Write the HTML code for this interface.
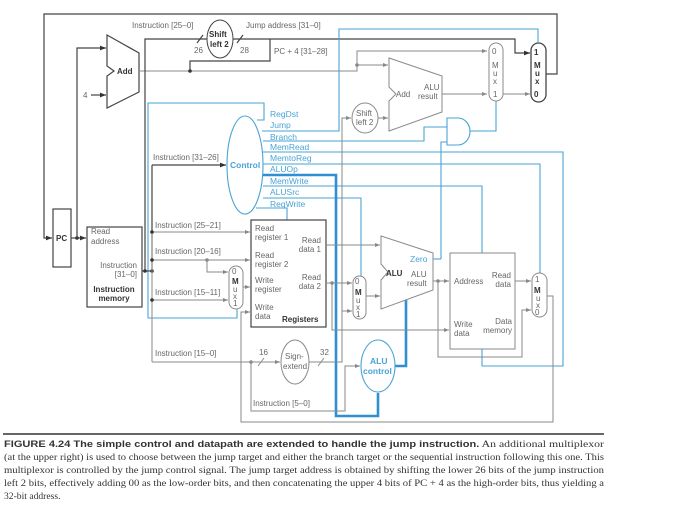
<!DOCTYPE html>
<html><head><meta charset="utf-8"><style>
html,body{margin:0;padding:0;background:#fff;}
svg{display:block;font-family:"Liberation Sans",sans-serif;}
.g{stroke:#8a8a8a;stroke-width:1;fill:none}
.d{stroke:#444;stroke-width:1.2;fill:none}
.b{stroke:#4aa3d6;stroke-width:1.1;fill:none}
.bt{stroke:#2f8fd0;stroke-width:2.6;fill:none}
.t{font-size:8px;fill:#666}
.tb{font-size:8px;fill:#333;font-weight:bold}
.bl{font-size:8.5px;fill:#4aa3d6}
.cap{font-family:"Liberation Serif",serif;font-size:9.6px;fill:#333}
</style></head><body>
<svg width="700" height="524" viewBox="0 0 700 524">
<defs>
<marker id="a" markerWidth="6" markerHeight="6" refX="5" refY="3" orient="auto"><path d="M0,1 L5,3 L0,5z" fill="#888"/></marker>
<marker id="ad" markerWidth="6" markerHeight="6" refX="5" refY="3" orient="auto"><path d="M0,1 L5,3 L0,5z" fill="#333"/></marker>
</defs>
<rect width="700" height="524" fill="#fff"/>

<path class="d" d="M546,74 H557 V14 H44 V238 H52" marker-end="url(#ad)"/>
<rect x="53" y="209" width="18" height="58" class="d"/>
<text x="56" y="241" class="tb">PC</text>
<path class="d" d="M71,238 H86" marker-end="url(#ad)"/>
<circle cx="77" cy="238" r="1.8" fill="#333"/>
<path class="d" d="M77,238 V48 H106" marker-end="url(#ad)"/>
<text x="83" y="98" class="t" fill="#333">4</text>
<path class="d" d="M91,95 H106" marker-end="url(#ad)"/>
<path class="d" d="M107,35 L139,53 V92 L107,108 V76 L114,71 L107,66 Z"/>
<text x="117" y="74" class="tb">Add</text>
<path class="g" d="M139,71 H357 V51 H487" marker-end="url(#a)"/>
<circle cx="190" cy="71" r="1.8" fill="#333"/>
<circle cx="357" cy="65" r="1.8" fill="#888"/>
<path class="g" d="M357,65 H388" marker-end="url(#a)"/>
<path class="d" d="M190,71 V61 H270 V39"/>
<path class="d" d="M145,271 V39 H207"/>
<path class="d" d="M233,39 H515 V53 H530" marker-end="url(#ad)"/>
<ellipse cx="220" cy="39" rx="13" ry="19" fill="#fff" stroke="#444"/>
<text x="209" y="37" class="tb">Shift</text>
<text x="210" y="47" class="tb">left 2</text>
<path class="d" d="M197,43 L203,35 M237,43 L243,35"/>
<text x="194" y="53" class="t" fill="#333">26</text>
<text x="240" y="53" class="t" fill="#333">28</text>
<text x="132" y="28" class="t" fill="#333">Instruction [25–0]</text>
<text x="246" y="28" class="t" fill="#333">Jump address [31–0]</text>
<text x="274" y="54" class="t" fill="#333">PC + 4 [31–28]</text>

<path class="g" d="M389,58 L442,76 V112 L389,131 V101 L396,94 L389,87 Z"/>
<text x="396" y="97" class="t">Add</text>
<text x="424" y="90" class="t">ALU</text>
<text x="418" y="99" class="t">result</text>
<path class="g" d="M442,94 H487" marker-end="url(#a)"/>
<ellipse cx="365" cy="118" rx="13" ry="15" class="g"/>
<text x="356" y="116" class="t">Shift</text>
<text x="356" y="125" class="t">left 2</text>
<path class="g" d="M378,118 H388" marker-end="url(#a)"/>
<rect x="489" y="43" width="14" height="58" rx="7" class="g"/>
<text x="492" y="54" class="t">0</text>
<text x="492" y="68" class="t">M</text><text x="493" y="76" class="t">u</text><text x="493" y="84" class="t">x</text>
<text x="493" y="97" class="t">1</text>
<path class="g" d="M503,94 H530" marker-end="url(#a)"/>
<rect x="531" y="43" width="15" height="59" rx="7.5" fill="#fff" stroke="#444" stroke-width="1.3"/>
<text x="534" y="55" class="tb">1</text>
<text x="534" y="68" class="tb">M</text><text x="535" y="76" class="tb">u</text><text x="535" y="84" class="tb">x</text>
<text x="534" y="97" class="tb">0</text>
<path class="b" d="M447,118 H458 A12,13.5 0 0 1 458,145 H447 Z"/>
<path class="b" d="M470,131 H496 V101"/>

<ellipse cx="245" cy="165" rx="18" ry="49" class="b"/>
<text x="230" y="168" class="bl" font-weight="bold">Control</text>
<path class="d" d="M152,165 H226" marker-end="url(#ad)"/>
<path class="d" d="M152,271 V165"/>
<text x="153" y="160" class="t" fill="#333">Instruction [31–26]</text>
<g class="bl">
<text x="270" y="117">RegDst</text><text x="270" y="128">Jump</text><text x="270" y="140">Branch</text>
<text x="270" y="150">MemRead</text><text x="270" y="161">MemtoReg</text><text x="270" y="172">ALUOp</text>
<text x="270" y="184">MemWrite</text><text x="270" y="195">ALUSrc</text><text x="270" y="207">RegWrite</text>
</g>
<path class="b" d="M257,120 H264 V103 H148 V318 H237 V309"/>
<path class="b" d="M262,131 H339 V29 H538 V43"/>
<path class="b" d="M263,141 H424 V127 H447"/>
<path class="b" d="M263,152 H563 V366 H482 V349"/>
<path class="b" d="M263,164 H540 V273"/>
<path class="b" d="M263,186 H482 V253"/>
<path class="b" d="M263,198 H361 V276"/>
<path class="b" d="M256,208 H287 V220"/>
<path class="bt" d="M263,175 H336 V416 H378 V393"/>
<path class="bt" d="M395,366 H406 V300"/>
<path class="b" d="M441,259 V142 H447"/>

<rect x="87" y="227" width="55" height="80" class="d"/>
<text x="91" y="234" class="t" fill="#333">Read</text>
<text x="91" y="244" class="t" fill="#333">address</text>
<text x="137" y="268" class="t" fill="#333" text-anchor="end">Instruction</text>
<text x="137" y="277" class="t" fill="#333" text-anchor="end">[31–0]</text>
<text x="114" y="292" class="tb" text-anchor="middle">Instruction</text>
<text x="114" y="301" class="tb" text-anchor="middle">memory</text>
<path class="d" d="M142,271 H152"/>
<circle cx="145" cy="271" r="1.8" fill="#333"/><circle cx="152" cy="271" r="1.8" fill="#333"/>
<path class="g" d="M152,271 V232 M152,271 V362"/>
<path class="g" d="M152,232 H250" marker-end="url(#a)"/>
<path class="g" d="M152,260 H250" marker-end="url(#a)"/>
<path class="g" d="M207,260 V272 H228" marker-end="url(#a)"/>
<path class="g" d="M152,300 H228" marker-end="url(#a)"/>
<path class="g" d="M152,362 H280" marker-end="url(#a)"/>
<circle cx="152" cy="232" r="1.8" fill="#333"/><circle cx="152" cy="260" r="1.8" fill="#333"/>
<circle cx="152" cy="300" r="1.8" fill="#333"/><circle cx="207" cy="260" r="1.8" fill="#888"/>
<circle cx="251" cy="362" r="1.8" fill="#888"/>
<text x="155" y="228" class="t">Instruction [25–21]</text>
<text x="155" y="254" class="t">Instruction [20–16]</text>
<text x="155" y="295" class="t">Instruction [15–11]</text>
<text x="155" y="356" class="t">Instruction [15–0]</text>
<rect x="229" y="266" width="14" height="43" rx="7" class="g"/>
<text x="232" y="274" class="t">0</text><text x="232" y="284" class="tb" fill="#888">M</text>
<text x="233" y="292" class="t">u</text><text x="233" y="299" class="t">x</text><text x="233" y="306" class="t">1</text>
<path class="g" d="M243,287 H250" marker-end="url(#a)"/>
<rect x="251" y="220" width="75" height="107" class="d"/>
<g class="t"><text x="255" y="231">Read</text><text x="255" y="240">register 1</text>
<text x="255" y="258">Read</text><text x="255" y="267">register 2</text>
<text x="255" y="283">Write</text><text x="255" y="292">register</text>
<text x="255" y="310">Write</text><text x="255" y="319">data</text>
<text x="321" y="243" text-anchor="end">Read</text><text x="321" y="252" text-anchor="end">data 1</text>
<text x="321" y="280" text-anchor="end">Read</text><text x="321" y="289" text-anchor="end">data 2</text></g>
<text x="282" y="322" class="tb" fill="#666">Registers</text>
<ellipse cx="295" cy="362" rx="14" ry="22" class="g"/>
<text x="285" y="359" class="t">Sign-</text><text x="283" y="369" class="t">extend</text>
<path class="g" d="M258,366 L264,358 M318,366 L324,358"/>
<text x="259" y="355" class="t">16</text><text x="320" y="355" class="t">32</text>
<path class="g" d="M309,362 H342 V311 H352" marker-end="url(#a)"/>
<path class="g" d="M342,311 V118 H351" marker-end="url(#a)"/>
<path class="g" d="M251,362 V411 H345 V366 H360" marker-end="url(#a)"/>
<text x="253" y="406" class="t">Instruction [5–0]</text>
<path class="g" d="M326,245 H380" marker-end="url(#a)"/>
<path class="g" d="M326,283 H352" marker-end="url(#a)"/>
<circle cx="332" cy="283" r="1.8" fill="#888"/>
<path class="g" d="M332,283 V330 H449" marker-end="url(#a)"/>
<rect x="353" y="276" width="13" height="43" rx="6.5" class="g" stroke="#555"/>
<text x="355" y="284" class="t">0</text><text x="355" y="295" class="tb" fill="#777">M</text>
<text x="356" y="303" class="t">u</text><text x="356" y="310" class="t">x</text><text x="356" y="317" class="t">1</text>
<path class="g" d="M366,296 H380" marker-end="url(#a)"/>
<path class="g" d="M381,236 L433,253 V290 L381,309 V280 L388,272 L381,264 Z"/>
<text x="410" y="262" class="bl" font-size="8">Zero</text>
<path class="b" d="M433,259 H441"/>
<text x="386" y="276" class="tb" fill="#888">ALU</text>
<text x="411" y="277" class="t">ALU</text><text x="407" y="286" class="t">result</text>
<ellipse cx="378" cy="366" rx="17" ry="26" class="b"/>
<text x="370" y="364" class="bl" font-weight="bold">ALU</text>
<text x="363" y="374" class="bl" font-weight="bold">control</text>
<path class="g" d="M433,281 H449" marker-end="url(#a)"/>
<circle cx="438" cy="281" r="1.8" fill="#888"/>
<path class="g" d="M438,281 V357 H522 V310 H531" marker-end="url(#a)"/>
<rect x="450" y="253" width="65" height="96" class="g"/>
<text x="454" y="284" class="t">Address</text>
<text x="511" y="278" class="t" text-anchor="end">Read</text><text x="511" y="287" class="t" text-anchor="end">data</text>
<text x="454" y="327" class="t">Write</text><text x="454" y="336" class="t">data</text>
<text x="512" y="324" class="t" text-anchor="end">Data</text><text x="512" y="333" class="t" text-anchor="end">memory</text>
<path class="g" d="M515,281 H531" marker-end="url(#a)"/>
<rect x="532" y="273" width="15" height="44" rx="7.5" class="g"/>
<text x="535" y="282" class="t">1</text><text x="534" y="293" class="tb" fill="#888">M</text>
<text x="536" y="301" class="t">u</text><text x="536" y="308" class="t">x</text><text x="535" y="315" class="t">0</text>
<path class="g" d="M547,296 H553 V422 H241 V312 H250" marker-end="url(#a)"/>

<line x1="3" y1="434" x2="604" y2="434" stroke="#666" stroke-width="2"/>
<text x="4" y="447" class="cap" textLength="600" lengthAdjust="spacingAndGlyphs"><tspan font-family="Liberation Sans" font-weight="bold" font-size="9">FIGURE 4.24   The simple control and datapath are extended to handle the jump instruction.</tspan> An additional multiplexor</text>
<text x="4" y="460" class="cap" textLength="600" lengthAdjust="spacingAndGlyphs">(at the upper right) is used to choose between the jump target and either the branch target or the sequential instruction following this one. This</text>
<text x="4" y="473" class="cap" textLength="600" lengthAdjust="spacingAndGlyphs">multiplexor is controlled by the jump control signal. The jump target address is obtained by shifting the lower 26 bits of the jump instruction</text>
<text x="4" y="486" class="cap" textLength="600" lengthAdjust="spacingAndGlyphs">left 2 bits, effectively adding 00 as the low-order bits, and then concatenating the upper 4 bits of PC + 4 as the high-order bits, thus yielding a</text>
<text x="4" y="499" class="cap">32-bit address.</text>
</svg>
</body></html>
